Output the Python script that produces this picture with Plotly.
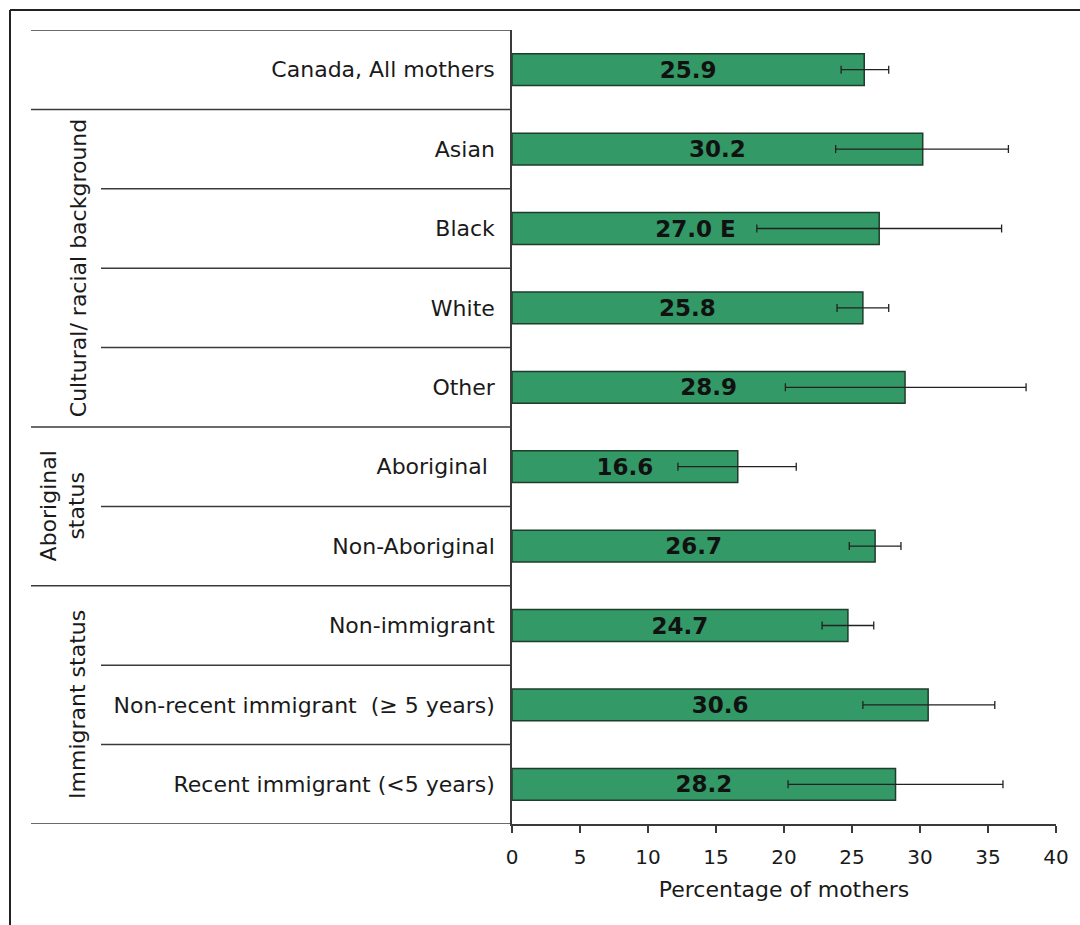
import plotly.graph_objects as go

categories = [
    "Canada, All mothers",
    "Asian",
    "Black",
    "White",
    "Other",
    "Aboriginal\u00a0",
    "Non-Aboriginal",
    "Non-immigrant",
    "Non-recent immigrant\u00a0 (≥ 5 years)",
    "Recent immigrant (<5 years)",
]
values = [25.9, 30.2, 27.0, 25.8, 28.9, 16.6, 26.7, 24.7, 30.6, 28.2]
ci_low = [24.2, 23.8, 18.0, 23.9, 20.1, 12.2, 24.8, 22.8, 25.8, 20.3]
ci_high = [27.7, 36.5, 36.0, 27.7, 37.8, 20.9, 28.6, 26.6, 35.5, 36.1]
flags = ["", "", "E", "", "", "", "", "", "", ""]

group_labels = ["Cultural/ racial background", "Aboriginal<br>status", "Immigrant status"]
group_centers = [2.5, 5.5, 8.0]
full_separators = [-0.5, 0.5, 4.5, 6.5]
inner_separators = [1.5, 2.5, 3.5, 5.5, 7.5, 8.5]
x_ticks = [0, 5, 10, 15, 20, 25, 30, 35, 40]

W, H = 1080, 925
L, R, T, B = 512, 24, 30, 101
PW, PH = W - L - R, H - T - B


def px_x(px):
    return (px - L) / PW


def px_y(py):
    return (H - B - py) / PH


texts = [f"{v:.1f}" + (f" {f}" if f else "") for v, f in zip(values, flags)]
err_plus = [h - v for h, v in zip(ci_high, values)]
err_minus = [v - l for l, v in zip(ci_low, values)]

fig = go.Figure(
    go.Bar(
        x=values,
        y=categories,
        orientation="h",
        width=0.4,
        marker=dict(color="#339966", line=dict(color="#1f3d2b", width=1.5)),
        text=texts,
        textposition="inside",
        insidetextanchor="middle",
        constraintext="none",
        textangle=0,
        textfont=dict(family="DejaVu Sans", size=23, color="#111111", weight="bold"),
        error_x=dict(
            type="data",
            array=err_plus,
            arrayminus=err_minus,
            color="#222222",
            thickness=1.3,
            width=4,
        ),
        hoverinfo="skip",
    )
)

shapes = []
line_style = dict(color="#3a3a3a", width=1.5)
for yv in full_separators:
    shapes.append(dict(type="line", xref="paper", yref="y", x0=px_x(31), x1=0,
                       y0=yv, y1=yv, line=line_style, layer="above"))
shapes.append(dict(type="line", xref="paper", yref="y", x0=px_x(31), x1=0,
                   y0=9.5, y1=9.5, line=line_style, layer="above"))
for yv in inner_separators:
    shapes.append(dict(type="line", xref="paper", yref="y", x0=px_x(101), x1=0,
                       y0=yv, y1=yv, line=line_style, layer="above"))
# outer frame
frame_style = dict(color="#222222", width=2)
shapes.append(dict(type="line", xref="paper", yref="paper", x0=px_x(10), x1=px_x(1085),
                   y0=px_y(10), y1=px_y(10), line=frame_style))
shapes.append(dict(type="line", xref="paper", yref="paper", x0=px_x(10), x1=px_x(10),
                   y0=px_y(10), y1=px_y(930), line=frame_style))

annotations = []
group_x = [px_x(78), px_x(63), px_x(78)]
for lbl, yc, gx in zip(group_labels, group_centers, group_x):
    annotations.append(dict(
        text=lbl, x=gx, y=yc, xref="paper", yref="y", showarrow=False,
        textangle=-90, xanchor="center", yanchor="middle", align="center",
        font=dict(family="DejaVu Sans", size=22, color="#1a1a1a"),
    ))

fig.update_layout(
    width=W, height=H,
    margin=dict(l=L, r=R, t=T, b=B, pad=0),
    paper_bgcolor="white",
    plot_bgcolor="white",
    showlegend=False,
    shapes=shapes,
    annotations=annotations,
    font=dict(family="DejaVu Sans", color="#1a1a1a"),
    xaxis=dict(
        range=[0, 40],
        tickvals=x_ticks,
        ticktext=[str(t) for t in x_ticks],
        showgrid=False, zeroline=False,
        showline=True, linecolor="#3a3a3a", linewidth=1.5,
        ticks="outside", ticklen=7, tickwidth=1.5, tickcolor="#3a3a3a",
        ticklabelstandoff=7,
        tickfont=dict(family="DejaVu Sans", size=20, color="#1a1a1a"),
        title=dict(text="Percentage of mothers", standoff=14,
                   font=dict(family="DejaVu Sans", size=22, color="#1a1a1a")),
        fixedrange=True,
    ),
    yaxis=dict(
        type="category",
        categoryorder="array",
        categoryarray=categories,
        range=[9.5, -0.5],
        showgrid=False, zeroline=False,
        showline=True, linecolor="#3a3a3a", linewidth=1.5,
        ticks="",
        ticklabelstandoff=11,
        tickfont=dict(family="DejaVu Sans", size=22, color="#1a1a1a"),
        fixedrange=True,
    ),
)

fig.write_html("out.html")
